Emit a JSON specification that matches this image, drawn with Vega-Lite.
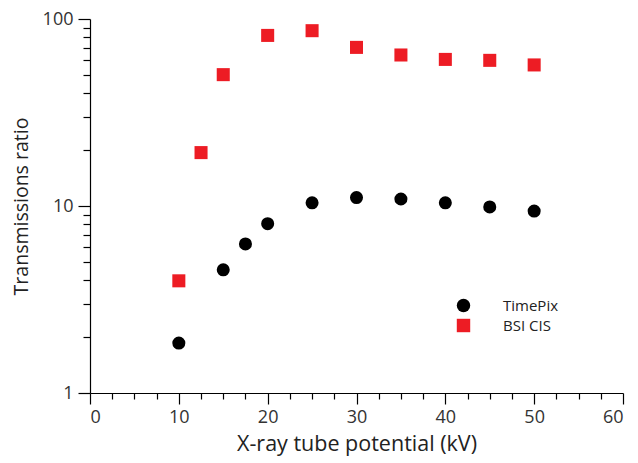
{
  "$schema": "https://vega.github.io/schema/vega-lite/v6.json",
  "autosize": "none",
  "width": 533,
  "height": 374,
  "padding": {"left": 90, "top": 19, "right": 15, "bottom": 70},
  "background": "white",
  "config": {
    "view": {"stroke": null},
    "font": "Open Sans",
    "axis": {"grid": false, "domainColor": "black", "tickColor": "black", "labelColor": "#333", "titleColor": "#222", "labelFont": "Open Sans", "titleFont": "Open Sans", "titleFontWeight": "normal", "labelFontSize": 18, "titleFontSize": 19, "domainWidth": 1.2, "tickWidth": 1.2}
  },
  "data": {
    "values": [
      {"kv": 10, "ratio": 1.85, "series": "TimePix"},
      {"kv": 15, "ratio": 4.56, "series": "TimePix"},
      {"kv": 17.5, "ratio": 6.27, "series": "TimePix"},
      {"kv": 20, "ratio": 8.04, "series": "TimePix"},
      {"kv": 25, "ratio": 10.4, "series": "TimePix"},
      {"kv": 30, "ratio": 11.1, "series": "TimePix"},
      {"kv": 35, "ratio": 10.9, "series": "TimePix"},
      {"kv": 40, "ratio": 10.4, "series": "TimePix"},
      {"kv": 45, "ratio": 9.88, "series": "TimePix"},
      {"kv": 50, "ratio": 9.4, "series": "TimePix"},
      {"kv": 10, "ratio": 3.98, "series": "BSI CIS"},
      {"kv": 12.5, "ratio": 19.3, "series": "BSI CIS"},
      {"kv": 15, "ratio": 50.4, "series": "BSI CIS"},
      {"kv": 20, "ratio": 81.7, "series": "BSI CIS"},
      {"kv": 25, "ratio": 86.6, "series": "BSI CIS"},
      {"kv": 30, "ratio": 70.5, "series": "BSI CIS"},
      {"kv": 35, "ratio": 64.2, "series": "BSI CIS"},
      {"kv": 40, "ratio": 60.8, "series": "BSI CIS"},
      {"kv": 45, "ratio": 60.1, "series": "BSI CIS"},
      {"kv": 50, "ratio": 56.8, "series": "BSI CIS"}
    ]
  },
  "mark": {"type": "point", "filled": true, "opacity": 1, "size": 170},
  "encoding": {
    "x": {
      "field": "kv", "type": "quantitative",
      "scale": {"domain": [0, 60], "nice": false, "zero": false},
      "axis": {
        "title": "X-ray tube potential (kV)",
        "titleFontSize": 21.5,
        "values": [0, 2.5, 5, 7.5, 10, 12.5, 15, 17.5, 20, 22.5, 25, 27.5, 30, 32.5, 35, 37.5, 40, 42.5, 45, 47.5, 50, 52.5, 55, 57.5, 60],
        "labelExpr": "datum.value % 10 === 0 ? datum.label : ''",
        "tickSize": {"condition": {"test": "datum.value % 10 === 0", "value": 11}, "value": 6},
        "labelPadding": 4,
        "titlePadding": 7
      }
    },
    "y": {
      "field": "ratio", "type": "quantitative",
      "scale": {"type": "log", "domain": [1, 100], "nice": false},
      "axis": {
        "title": "Transmissions ratio",
        "titleFontSize": 19.5,
        "values": [1, 2, 3, 4, 5, 6, 7, 8, 9, 10, 20, 30, 40, 50, 60, 70, 80, 90, 100],
        "labelExpr": "(datum.value === 1 || datum.value === 10 || datum.value === 100) ? datum.label : ''",
        "tickSize": {"condition": {"test": "datum.value === 1 || datum.value === 10 || datum.value === 100", "value": 12}, "value": 7},
        "labelPadding": 5,
        "titlePadding": 11
      }
    },
    "color": {
      "field": "series", "type": "nominal",
      "scale": {"domain": ["TimePix", "BSI CIS"], "range": ["#000000", "#ED1C24"]},
      "legend": {"title": null, "orient": "none", "legendX": 366, "legendY": 279, "labelFontSize": 15, "labelColor": "#222", "labelOffset": 32, "symbolSize": 180, "rowPadding": 4, "labelFont": "Open Sans"}
    },
    "shape": {
      "field": "series", "type": "nominal",
      "scale": {"domain": ["TimePix", "BSI CIS"], "range": ["circle", "square"]}
    }
  }
}
